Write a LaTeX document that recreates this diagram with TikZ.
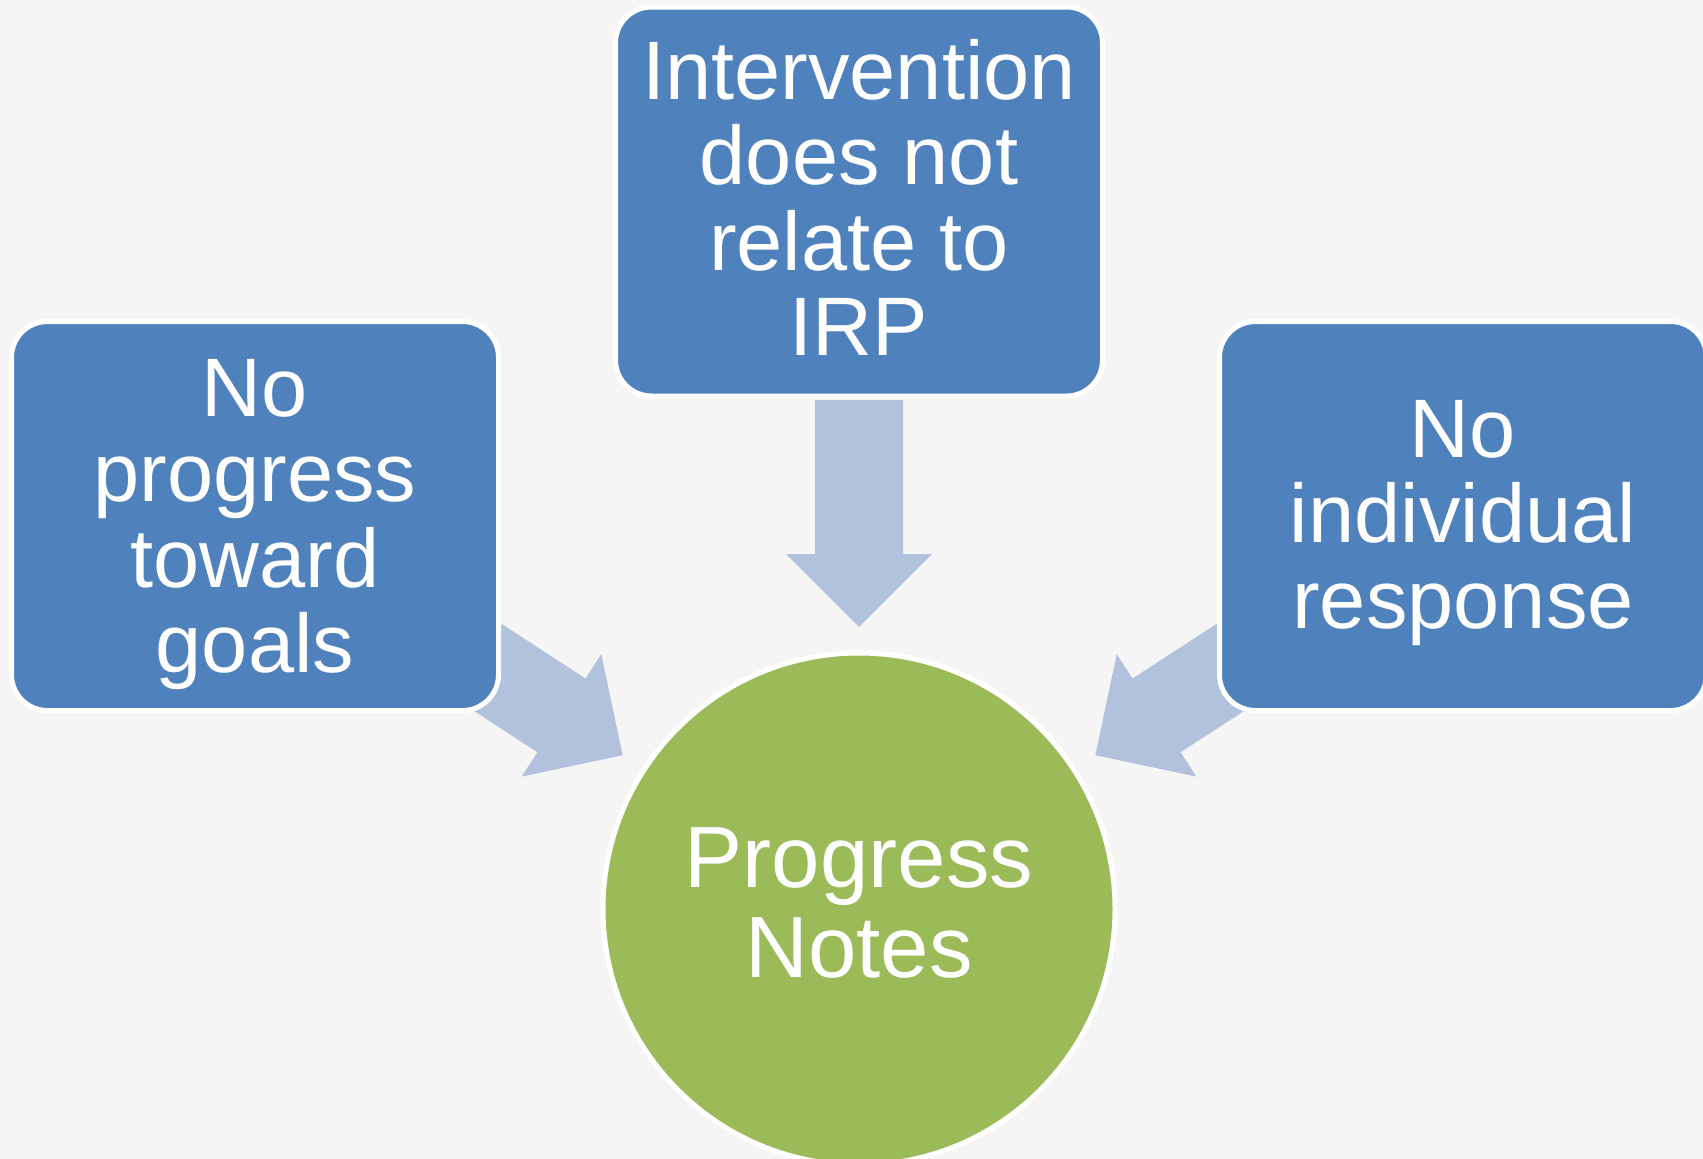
\documentclass[tikz,border=0pt]{standalone}
\usepackage{fontspec}
\setmainfont{Liberation Sans}
\usetikzlibrary{calc,backgrounds}

\definecolor{pagebg}{HTML}{F5F5F5}
\definecolor{boxblue}{HTML}{4F81BD}
\definecolor{arrowblue}{HTML}{B3C2DC}
\definecolor{notegreen}{HTML}{9BBB59}

\tikzset{
  issuebox/.style={rectangle, rounded corners=36pt, fill=boxblue, draw=white,
    line width=5pt, minimum width=487pt, minimum height=389pt, inner sep=0pt},
  hub/.style={circle, fill=notegreen, draw=white, line width=5pt,
    minimum size=512pt, inner sep=0pt},
  boxlabel/.style={text=white, align=center, inner sep=0pt,
    font=\fontsize{83}{85.5}\selectfont},
  hublabel/.style={text=white, align=center, inner sep=0pt,
    font=\fontsize{87}{90}\selectfont},
  flow/.style={fill=arrowblue},
}

% Fat block arrow on the line from node #1 towards node #2,
% stopping a little short of #2's rim.
\newcommand{\blockarrow}[2]{%
  \coordinate (ba-s) at ($(#2)!509pt!(#1)$);
  \coordinate (ba-t) at ($(#2)!282pt!(#1)$);
  \coordinate (ba-n) at ($(ba-s)!154pt!(ba-t)$);
  \fill[flow] ($(ba-s)!44pt!90:(ba-t)$) -- ($(ba-n)!44pt!90:(ba-t)$)
    -- ($(ba-n)!73pt!90:(ba-t)$) -- (ba-t) -- ($(ba-n)!73pt!-90:(ba-t)$)
    -- ($(ba-n)!44pt!-90:(ba-t)$) -- ($(ba-s)!44pt!-90:(ba-t)$) -- cycle;
}

\begin{document}
\begin{tikzpicture}[x=1pt, y=-1pt]
  \useasboundingbox (0,0) rectangle (1703,1159);

  % boxes and hub
  \node[issuebox] (top)   at (859,201.5) {};
  \node[issuebox] (left)  at (255,516)   {};
  \node[issuebox] (right) at (1463,516)  {};
  \node[hub]      (pn)    at (859,909)   {};

  % labels
  \node[boxlabel, yshift=4pt]    (topText)   at (top)   {Intervention\\does not\\relate to\\IRP};
  \node[boxlabel, yshift=-8.5pt] (leftText)  at (left)  {No\\progress\\toward\\goals};
  \node[boxlabel, yshift=-7pt]   (rightText) at (right) {No\\individual\\response};
  \node[hublabel, yshift=6pt]    (pnText)    at (pn)    {Progress\\Notes};

  % page colour and arrows sit behind the shapes
  \begin{pgfonlayer}{background}
    \fill[pagebg] (0,0) rectangle (1703,1159);
    \blockarrow{top}{pn}
    \blockarrow{left}{pn}
    \blockarrow{right}{pn}
  \end{pgfonlayer}
\end{tikzpicture}
\end{document}
